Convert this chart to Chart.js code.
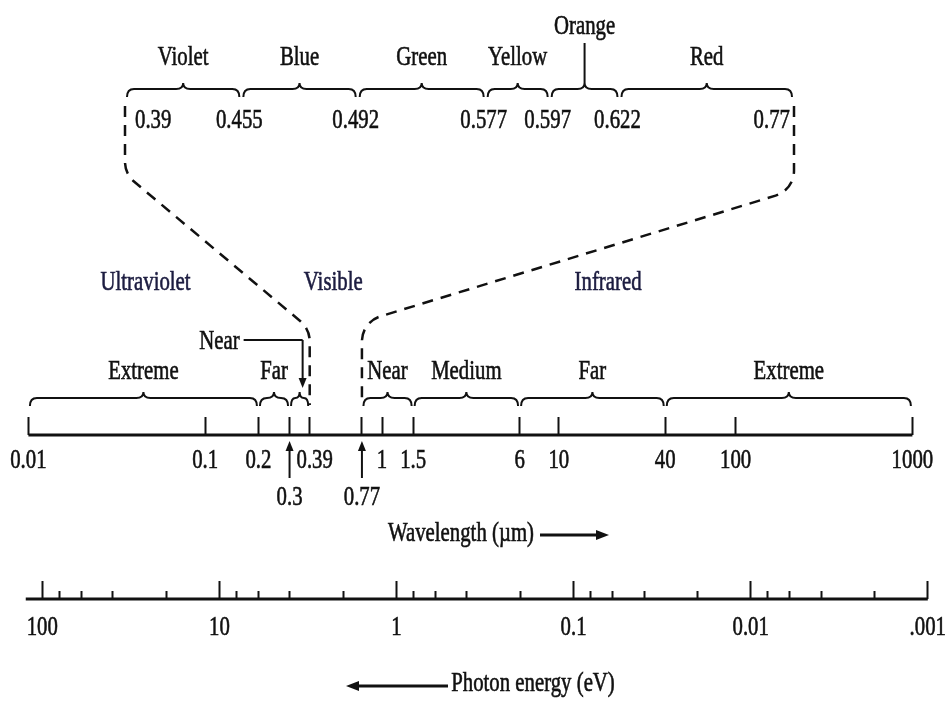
<!DOCTYPE html>
<html>
<head>
<meta charset="utf-8">
<title>Optical spectrum</title>
<script src="https://cdn.jsdelivr.net/npm/chart.js@4.4.1/dist/chart.umd.min.js"></script>
<style>
  html, body { margin: 0; padding: 0; background: #fff; }
  #wrap { width: 947px; height: 708px; }
</style>
</head>
<body>
<div id="wrap"><canvas id="spectrum" width="947" height="708"></canvas></div>
<script>
// visible light, expanded at the top (wavelength in µm)
const visibleBands = ["Violet", "Blue", "Green", "Yellow", "Orange", "Red"];
const visibleStops = [0.39, 0.455, 0.492, 0.577, 0.597, 0.622, 0.77];

// ultraviolet / infrared sub-bands (µm)
const uvBands = ["Extreme", "Far", "Near"];
const uvStops = [0.01, 0.2, 0.3, 0.39];
const irBands = ["Near", "Medium", "Far", "Extreme"];
const irStops = [0.77, 1.5, 6, 40, 1000];

const regions = ["Ultraviolet", "Visible", "Infrared"];
const regionAt = [0.046, 0.53, 19]; // where the region names sit on the wavelength axis

// wavelength axis (µm)
const wlTicks = [0.01, 0.1, 0.2, 0.3, 0.39, 0.77, 1, 1.5, 6, 10, 40, 100, 1000];
const wlTickLabels = ["0.01", "0.1", "0.2", "0.3", "0.39", "0.77", "1", "1.5", "6", "10", "40", "100", "1000"];
const wlArrowTicks = [0.3, 0.77];

// photon energy axis (eV)
const evTicks = [100, 10, 1, 0.1, 0.01, 0.001];
const evTickLabels = ["100", "10", "1", "0.1", "0.01", ".001"];
const evMinorTicks = [80, 60, 40, 20, 8, 6, 4, 2, 0.8, 0.6, 0.4, 0.2,
  0.08, 0.06, 0.04, 0.02, 0.008, 0.006, 0.004, 0.002];

// ---- layout ----
const W = 947, H = 708;
const ink = "#111";
const navy = "#1c1c40";
const stripWeights = [1, 1, 1.1, 0.55, 0.6, 1.5]; // colour strip is drawn schematically, not to scale
const stripLeft = 125, stripRight = 794;
const rows = {
  orange: 26, bandLabel: 57, stripBrace: 89, stripNum: 120,
  region: 282, callout: 341, wlBraceLabel: 371, wlBrace: 398,
  wlAxis: 435, wlLabel: 460, wlLabel2: 497, wlTitle: 533,
  evAxis: 599, evLabel: 627, evTitle: 683
};

function logBounds(anchor, px, perDecade, reverse) {
  const at = p => anchor * Math.pow(10, (reverse ? px - p : p - px) / perDecade);
  return reverse ? { min: at(W), max: at(0) } : { min: at(0), max: at(W) };
}
const wlRange = logBounds(1, 382, 176.8, false);
const evRange = logBounds(1, 396.5, 177.1, true);
const stripTotal = stripWeights.reduce((a, b) => a + b, 0);
const stripUnit = (stripRight - stripLeft) / stripTotal;

function fixedTicks(values) {
  return scale => { scale.ticks = values.map(v => ({ value: v })); };
}

// condensed serif look: a tall face squeezed horizontally
function label(ctx, text, x, y, align, color) {
  ctx.save();
  ctx.translate(x, y);
  ctx.scale(0.77, 1);
  ctx.font = '27px "Liberation Serif", "DejaVu Serif", serif';
  ctx.fillStyle = color || ink;
  ctx.strokeStyle = color || ink;
  ctx.lineWidth = 0.6;
  ctx.textAlign = align || "center";
  ctx.textBaseline = "middle";
  ctx.fillText(text, 0, 1);
  ctx.strokeText(text, 0, 1);
  ctx.restore();
}

function brace(ctx, x1, x2, y) {
  const mid = (x1 + x2) / 2;
  const r = Math.min(7, (x2 - x1) / 4);
  ctx.beginPath();
  ctx.moveTo(x1, y + 8);
  ctx.quadraticCurveTo(x1, y, x1 + r, y);
  ctx.lineTo(mid - r, y);
  ctx.quadraticCurveTo(mid, y, mid, y - 6);
  ctx.quadraticCurveTo(mid, y, mid + r, y);
  ctx.lineTo(x2 - r, y);
  ctx.quadraticCurveTo(x2, y, x2, y + 8);
  ctx.stroke();
}

function arrow(ctx, x1, y1, x2, y2, head, half) {
  const a = Math.atan2(y2 - y1, x2 - x1);
  const c = Math.cos(a), s = Math.sin(a);
  ctx.beginPath();
  ctx.moveTo(x1, y1);
  ctx.lineTo(x2 - c * head * 0.7, y2 - s * head * 0.7);
  ctx.stroke();
  ctx.beginPath();
  ctx.moveTo(x2, y2);
  ctx.lineTo(x2 - head * c + half * s, y2 - head * s - half * c);
  ctx.lineTo(x2 - head * c - half * s, y2 - head * s + half * c);
  ctx.closePath();
  ctx.fill();
}

const annotations = {
  id: "annotations",
  afterDraw(chart) {
    const ctx = chart.ctx;
    const sc = chart.scales;
    const Y = v => sc.y.getPixelForValue(v);
    const wl = v => sc.wl.getPixelForValue(v);
    const cum = [0];
    stripWeights.forEach(w => cum.push(cum[cum.length - 1] + w));
    const stripX = i => sc.strip.getPixelForValue(cum[i]);
    const last = visibleStops.length - 1;

    ctx.save();
    ctx.strokeStyle = ink;
    ctx.fillStyle = ink;
    ctx.lineWidth = 2;

    // colour strip
    visibleBands.forEach((name, i) => {
      const x1 = stripX(i) + 2, x2 = stripX(i + 1) - 2;
      const mid = (x1 + x2) / 2;
      ctx.lineWidth = 2;
      brace(ctx, x1, x2, Y(rows.stripBrace));
      if (name === "Orange") {
        ctx.beginPath();
        ctx.moveTo(mid, Y(rows.stripBrace) - 6);
        ctx.lineTo(mid, Y(rows.orange + 17));
        ctx.stroke();
        label(ctx, name, mid, Y(rows.orange));
      } else {
        label(ctx, name, mid, Y(rows.bandLabel));
      }
    });
    visibleStops.forEach((v, i) => {
      const x = stripX(i);
      if (i === 0) label(ctx, String(v), x + 10, Y(rows.stripNum), "left");
      else if (i === last) label(ctx, String(v), x - 4, Y(rows.stripNum), "right");
      else label(ctx, String(v), x - 2, Y(rows.stripNum));
    });

    // dashed links from the strip down to the visible band on the axis
    function connector(xTop, xBottom, yCornerTop, yCornerBottom) {
      ctx.save();
      ctx.setLineDash([11, 8]);
      ctx.lineWidth = 2.5;
      ctx.beginPath();
      ctx.moveTo(xTop, Y(106));
      ctx.arcTo(xTop, Y(yCornerTop), xBottom, Y(yCornerBottom), 26);
      ctx.arcTo(xBottom, Y(yCornerBottom), xBottom, Y(rows.wlBrace + 7), 26);
      ctx.lineTo(xBottom, Y(rows.wlBrace + 7));
      ctx.stroke();
      ctx.restore();
    }
    connector(stripX(0), wl(visibleStops[0]), 174, 329);
    connector(stripX(last), wl(visibleStops[last]), 190, 322);

    // region names
    regions.forEach((name, i) => label(ctx, name, wl(regionAt[i]), Y(rows.region), "center", navy));

    // sub-band braces
    function bandBraces(names, stops, calloutIndex) {
      names.forEach((name, i) => {
        const x1 = wl(stops[i]) + 1.5, x2 = wl(stops[i + 1]) - 1.5;
        const mid = (x1 + x2) / 2;
        ctx.lineWidth = 2;
        brace(ctx, x1, x2, Y(rows.wlBrace));
        if (i === calloutIndex) {
          const yl = Y(rows.callout - 1);
          ctx.beginPath();
          ctx.moveTo(mid - 56, yl);
          ctx.lineTo(mid + 3, yl);
          ctx.stroke();
          arrow(ctx, mid + 3, yl, mid + 3, Y(rows.wlBrace - 10), 10, 4);
          label(ctx, name, mid - 60, Y(rows.callout), "right");
        } else {
          label(ctx, name, mid, Y(rows.wlBraceLabel));
        }
      });
    }
    bandBraces(uvBands, uvStops, uvBands.length - 1);
    bandBraces(irBands, irStops, -1);

    // wavelength tick labels
    wlTicks.forEach((v, i) => {
      if (wlArrowTicks.includes(v)) {
        ctx.lineWidth = 2;
        arrow(ctx, wl(v), Y(rows.wlLabel2 - 19), wl(v), Y(rows.wlAxis + 6), 10, 4);
        label(ctx, wlTickLabels[i], wl(v), Y(rows.wlLabel2));
      } else {
        const nudge = v === 0.39 ? 5 : 0;
        label(ctx, wlTickLabels[i], wl(v) + nudge, Y(rows.wlLabel));
      }
    });
    label(ctx, "Wavelength (\u00b5m)", 461, Y(rows.wlTitle));
    ctx.lineWidth = 3;
    arrow(ctx, 540, Y(rows.wlTitle + 2), 609, Y(rows.wlTitle + 2), 13, 5);

    // photon energy tick labels
    evTicks.forEach((v, i) => label(ctx, evTickLabels[i], sc.ev.getPixelForValue(v), Y(rows.evLabel)));
    label(ctx, "Photon energy (eV)", 533, Y(rows.evTitle));
    ctx.lineWidth = 3;
    arrow(ctx, 448, Y(rows.evTitle + 3), 346, Y(rows.evTitle + 3), 13, 5);

    ctx.restore();
  }
};

const tickGrid = len => ({
  drawOnChartArea: false,
  drawTicks: true,
  tickLength: len,
  tickWidth: 2,
  tickColor: ink,
  color: ink
});

new Chart(document.getElementById("spectrum"), {
  type: "scatter",
  data: {
    datasets: [
      {
        label: "Wavelength axis",
        xAxisID: "wl",
        data: [{ x: wlTicks[0], y: rows.wlAxis }, { x: wlTicks[wlTicks.length - 1], y: rows.wlAxis }],
        showLine: true,
        borderColor: ink,
        borderWidth: 3,
        pointRadius: 0
      },
      {
        label: "Photon energy axis",
        xAxisID: "ev",
        data: [{ x: 1.24 / wlTicks[0], y: rows.evAxis }, { x: evTicks[evTicks.length - 1], y: rows.evAxis }],
        showLine: true,
        borderColor: ink,
        borderWidth: 3,
        pointRadius: 0
      }
    ]
  },
  options: {
    responsive: false,
    animation: false,
    events: [],
    layout: { padding: 0 },
    plugins: {
      legend: { display: false },
      tooltip: { enabled: false }
    },
    scales: {
      y: { type: "linear", min: 0, max: H, reverse: true, display: false },
      strip: {
        axis: "x",
        type: "linear",
        position: { y: rows.stripBrace },
        min: -stripLeft / stripUnit,
        max: (W - stripLeft) / stripUnit,
        display: false
      },
      wl: {
        axis: "x",
        type: "logarithmic",
        position: { y: rows.wlAxis },
        bounds: "data",
        min: wlRange.min,
        max: wlRange.max,
        afterBuildTicks: fixedTicks(wlTicks),
        border: { display: false },
        grid: tickGrid(-18),
        ticks: { display: false, autoSkip: false, maxRotation: 0 }
      },
      ev: {
        axis: "x",
        type: "logarithmic",
        position: { y: rows.evAxis },
        reverse: true,
        bounds: "data",
        min: evRange.min,
        max: evRange.max,
        afterBuildTicks: fixedTicks(evTicks),
        border: { display: false },
        grid: tickGrid(-18),
        ticks: { display: false, autoSkip: false, maxRotation: 0 }
      },
      evMinor: {
        axis: "x",
        type: "logarithmic",
        position: { y: rows.evAxis },
        reverse: true,
        bounds: "data",
        min: evRange.min,
        max: evRange.max,
        afterBuildTicks: fixedTicks(evMinorTicks),
        border: { display: false },
        grid: tickGrid(-8),
        ticks: { display: false, autoSkip: false, maxRotation: 0 }
      }
    }
  },
  plugins: [annotations]
});
</script>
</body>
</html>
